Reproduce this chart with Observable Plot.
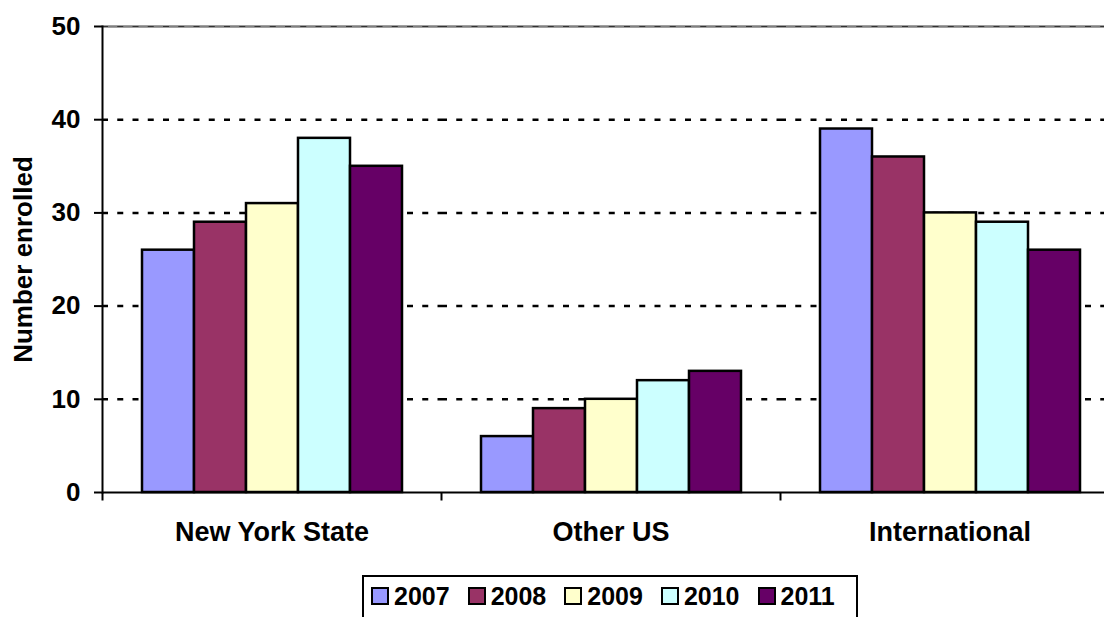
<!DOCTYPE html>
<html>
<head>
<meta charset="utf-8">
<script src="https://cdn.jsdelivr.net/npm/d3@7"></script>
<script src="https://cdn.jsdelivr.net/npm/@observablehq/plot@0.6"></script>
<style>
  html, body { margin: 0; padding: 0; background: #fff; overflow: hidden; }
  body { width: 1104px; height: 617px; font-family: "Liberation Sans", Arial, sans-serif; }
  #chart svg { display: block; }
  #legend {
    margin-left: 362px; width: 496px; height: 60px; box-sizing: border-box;
    border: 2px solid #000; display: flex; align-items: center; align-content: flex-start;
    padding-left: 7px; padding-bottom: 18px; gap: 18px;
    font: bold 25px "Liberation Sans", Arial, sans-serif; color: #000;
  }
  #legend .item { display: flex; align-items: center; gap: 5px; }
  #legend .sw { display: inline-block; width: 18px; height: 18px; box-sizing: border-box; border: 2px solid #000; }
</style>
</head>
<body>
<div id="chart"></div>
<script>
// ---- data ----
const groups = ["New York State", "Other US", "International"];
const years = ["2007", "2008", "2009", "2010", "2011"];
const colors = ["#9999FF", "#993366", "#FFFFCC", "#CCFFFF", "#660066"];
const series2007 = [26, 6, 39];
const series2008 = [29, 9, 36];
const series2009 = [31, 10, 30];
const series2010 = [38, 12, 29];
const series2011 = [35, 13, 26];
const yTicks = [0, 10, 20, 30, 40, 50];
const yTitle = "Number enrolled";

const seriesList = [series2007, series2008, series2009, series2010, series2011];
const table = years.flatMap((yr, i) => groups.map((g, j) => ({group: g, year: yr, value: seriesList[i][j]})));

const FONT = '"Liberation Sans", Arial, sans-serif';

// a short vertical stroke used as the category separator tick
const tickSymbol = {
  draw(ctx, size) {
    const r = Math.sqrt(size / Math.PI);
    ctx.moveTo(0, 0);
    ctx.lineTo(0, r);
  }
};

const chart = Plot.plot({
  width: 1104,
  height: 575,
  marginLeft: 102,
  marginRight: -15,
  marginTop: 26,
  marginBottom: 83,
  style: {fontFamily: FONT, fontWeight: "bold", color: "#000", background: "#fff"},
  fx: {domain: groups, padding: 0, label: null},
  x: {domain: years, paddingInner: 0, paddingOuter: 0.745, axis: null},
  y: {domain: [0, 50], label: null},
  color: {domain: years, range: colors},
  marks: [
    Plot.ruleY([50], {stroke: "#808080", strokeWidth: 2.5}),
    Plot.ruleY(yTicks.filter(d => d > 0 && d < 50), {stroke: "#000", strokeWidth: 2.5, strokeDasharray: "6,9.25"}),
    Plot.ruleY([50], {stroke: "#333", strokeWidth: 1.2, strokeDasharray: "6,9.25"}),
    Plot.barY(table, {fx: "group", x: "year", y: "value", fill: "year", stroke: "#000", strokeWidth: 2.5}),
    Plot.ruleY([0], {stroke: "#000", strokeWidth: 2}),
    Plot.frame({anchor: "left", fx: () => groups[0], stroke: "#000", strokeWidth: 2}),
    Plot.dot([0], {frameAnchor: "bottom-left", symbol: tickSymbol, r: 8, stroke: "#000", strokeWidth: 2, fill: "none"}),
    Plot.axisY({ticks: yTicks, tickSize: 8, tickPadding: 14, tickFormat: d => String(d), fontSize: 26, fontWeight: "bold", strokeWidth: 2, label: null}),
    Plot.axisFx({anchor: "bottom", tickSize: 0, tickPadding: 29, fontSize: 27, fontWeight: "bold", label: null}),
    Plot.text([yTitle], {fx: () => groups[0], text: d => d, frameAnchor: "left", textAnchor: "middle", rotate: -90, dx: -79, fontSize: 26, fontWeight: "bold", fill: "#000"})
  ]
});
document.getElementById("chart").appendChild(chart);

// legend below the chart
const legend = d3.select("body").append("div").attr("id", "legend");
years.forEach((yr, i) => {
  const item = legend.append("div").attr("class", "item");
  item.append("span").attr("class", "sw").style("background", colors[i]);
  item.append("span").text(yr);
});
</script>
</body>
</html>
